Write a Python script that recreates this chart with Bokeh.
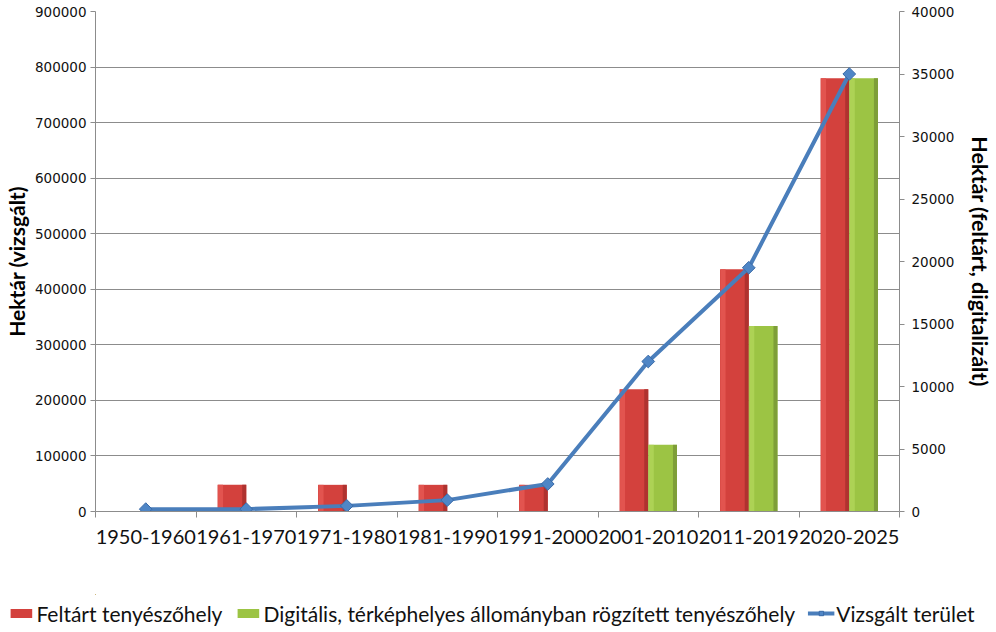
import numpy as np
from bokeh.plotting import figure
from bokeh.layouts import column
from bokeh.models import (ColumnDataSource, Range1d, LinearAxis, FixedTicker,
                          BasicTickFormatter, Legend, LegendItem)
from bokeh.transform import dodge
from bokeh.embed import file_html
from bokeh.resources import INLINE

# ---- data ----
categories = ["1950-1960", "1961-1970", "1971-1980", "1981-1990",
              "1991-2000", "2001-2010", "2011-2019", "2020-2025"]
feltart = [0, 48000, 48000, 48000, 48000, 220000, 436000, 780000]
digitalis = [0, 0, 0, 0, 0, 120000, 334000, 780000]
vizsgalt = [190, 190, 450, 910, 2200, 12000, 19500, 35000]
left_ticks = [0, 100000, 200000, 300000, 400000, 500000, 600000, 700000, 800000, 900000]
right_ticks = [0, 5000, 10000, 15000, 20000, 25000, 30000, 35000, 40000]
series_names = ["Feltárt tenyészőhely",
                "Digitális, térképhelyes állományban rögzített tenyészőhely",
                "Vizsgált terület"]

RED, GREEN, BLUE = "#D3413D", "#9CC444", "#4A7EBB"

idx = np.arange(len(categories))
src = ColumnDataSource(dict(x=idx + 0.5, cat=categories, feltart=feltart,
                            digitalis=digitalis, vizsgalt=vizsgalt))

GRID = "#8C8C8C"
p = figure(frame_width=804, frame_height=500, output_backend="svg",
           toolbar_location=None, x_range=Range1d(0, len(categories)),
           y_range=Range1d(0, 900000),
           min_border_left=94, min_border_right=82, min_border_top=11,
           min_border_bottom=83)
p.outline_line_color = None
p.background_fill_color = "white"
p.border_fill_color = "white"
p.extra_y_ranges = {"right": Range1d(0, 40000)}

BW = 0.2857
# red bars (layered for a shaded look)
p.vbar(x=dodge("x", -BW / 2, range=p.x_range), top="feltart", width=BW,
       source=src, fill_color=RED, line_color=None)
p.vbar(x=dodge("x", -BW + 0.03, range=p.x_range), top="feltart", width=0.05,
       source=src, fill_color="#E2544F", line_color=None)
p.vbar(x=dodge("x", -0.02, range=p.x_range), top="feltart", width=0.04,
       source=src, fill_color="#AF322F", line_color=None)
# green bars
p.vbar(x=dodge("x", BW / 2, range=p.x_range), top="digitalis", width=BW,
       source=src, fill_color=GREEN, line_color=None)
p.vbar(x=dodge("x", 0.03, range=p.x_range), top="digitalis", width=0.05,
       source=src, fill_color="#ADD255", line_color=None)
p.vbar(x=dodge("x", BW - 0.02, range=p.x_range), top="digitalis", width=0.04,
       source=src, fill_color="#7E9E38", line_color=None)

# line on the right axis
p.line(x="x", y="vizsgalt", source=src, y_range_name="right",
       line_color=BLUE, line_width=4)
p.scatter(x="x", y="vizsgalt", source=src, y_range_name="right",
          marker="square", angle=np.pi / 4, size=9,
          fill_color="#4F86C6", line_color="#3A6BA8", line_width=1)

# axes
p.xgrid.grid_line_color = None
p.ygrid.grid_line_color = GRID
p.ygrid.ticker = FixedTicker(ticks=left_ticks)

ya = p.yaxis[0]
ya.ticker = FixedTicker(ticks=left_ticks)
ya.formatter = BasicTickFormatter(use_scientific=False)
ya.axis_label = "Hektár (vizsgált)"
ya.axis_label_text_font = "Lato"
ya.axis_label_text_font_style = "bold"
ya.axis_label_text_font_size = "21px"
ya.axis_label_text_color = "#000000"
ya.axis_label_standoff = 3
ya.major_label_text_font = "DejaVu Sans"
ya.major_label_text_font_size = "13.5px"
ya.major_label_text_color = "#111111"
ya.axis_line_color = GRID
ya.major_tick_line_color = GRID
ya.major_tick_out = 5
ya.major_tick_in = 0
ya.minor_tick_line_color = None
ya.major_label_standoff = 4

ra = LinearAxis(y_range_name="right", ticker=FixedTicker(ticks=right_ticks),
                formatter=BasicTickFormatter(use_scientific=False))
ra.axis_label = "Hektár (feltárt, digitalizált)"
ra.axis_label_text_font = "Lato"
ra.axis_label_text_font_style = "bold"
ra.axis_label_text_font_size = "21.5px"
ra.axis_label_text_color = "#000000"
ra.axis_label_standoff = 10
ra.major_label_text_font = "DejaVu Sans"
ra.major_label_text_font_size = "13.5px"
ra.major_label_text_color = "#111111"
ra.axis_line_color = GRID
ra.major_tick_line_color = GRID
ra.major_tick_out = 5
ra.major_tick_in = 0
ra.minor_tick_line_color = None
ra.major_label_standoff = 7
p.add_layout(ra, "right")

xa = p.xaxis[0]
centers = [float(i) + 0.5 for i in idx]
xa.ticker = FixedTicker(ticks=centers, minor_ticks=[float(i) for i in range(len(categories) + 1)])
xa.major_label_overrides = {c: name for c, name in zip(centers, categories)}
xa.major_tick_line_color = None
xa.major_tick_out = 5
xa.minor_tick_line_color = GRID
xa.minor_tick_out = 6
xa.minor_tick_in = 0
xa.axis_line_color = GRID
xa.major_label_text_font = "Lato"
xa.major_label_text_font_size = "20px"
xa.major_label_text_color = "#111111"
xa.major_label_standoff = 12

# ---- legend strip (separate small figure; proxies drawn outside its view) ----
lg = figure(frame_width=966, frame_height=38, output_backend="svg",
            toolbar_location=None, x_range=Range1d(100, 101), y_range=Range1d(-10, -9),
            min_border=0, min_border_left=16,
            x_axis_location=None, y_axis_location=None)
lg.outline_line_color = None
lg.xgrid.grid_line_color = None
lg.ygrid.grid_line_color = None
g_red = lg.vbar(x="x", top="feltart", width=0.1, source=src, fill_color=RED, line_color=None)
g_green = lg.vbar(x="x", top="digitalis", width=0.1, source=src, fill_color=GREEN, line_color=None)
g_line = lg.line(x="x", y="vizsgalt", source=src, line_color=BLUE, line_width=4)
g_pts = lg.scatter(x="x", y="vizsgalt", source=src, marker="square", angle=np.pi / 4, size=10,
                   fill_color="#4F86C6", line_color="#3A6BA8")

legend = Legend(items=[
    LegendItem(label=series_names[0], renderers=[g_red]),
    LegendItem(label=series_names[1], renderers=[g_green]),
    LegendItem(label=series_names[2], renderers=[g_line, g_pts]),
], orientation="horizontal", location="center")
legend.label_text_font = "Lato"
legend.label_text_font_size = "21px"
legend.label_text_color = "#111111"
legend.glyph_width = 27
legend.glyph_height = 11
legend.label_standoff = 2
legend.spacing = 12
legend.padding = 0
legend.margin = 0
legend.border_line_color = None
legend.background_fill_alpha = 0
lg.add_layout(legend, "center")

layout = column(p, lg, spacing=0)
open("out.html", "w").write(file_html(layout, INLINE))
